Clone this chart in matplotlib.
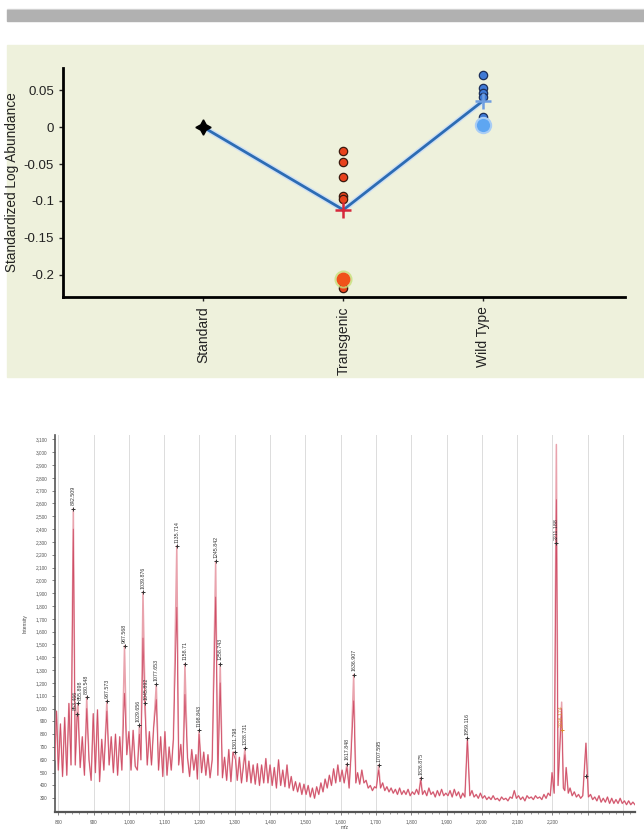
import numpy as np
import matplotlib.pyplot as plt
from matplotlib.patches import Rectangle
from matplotlib.ticker import FuncFormatter

plt.rcParams['font.family'] = ['Liberation Sans', 'DejaVu Sans']

# top panel: standardized log abundance per group
groups = ['Standard', 'Transgenic', 'Wild Type']
standard_vals = [0.0]
transgenic_vals = [-0.032, -0.047, -0.068, -0.093, -0.098, -0.218]
transgenic_highlight = -0.205
wildtype_vals = [0.070, 0.053, 0.046, 0.041, 0.014]
wildtype_highlight = 0.003
group_means = [0.0, -0.112, 0.036]

# bottom panel: spectrum baseline (m/z, intensity)
noise_mz = [790, 795, 800, 806, 812, 818, 824, 830, 836, 848, 862, 868, 874, 887, 893, 899,
            905, 911, 917, 923, 929, 944, 950, 956, 962, 968, 974, 980, 994, 1000, 1006, 1012,
            1018, 1024, 1034, 1052, 1058, 1064, 1070, 1084, 1090, 1096, 1102, 1108, 1114, 1120,
            1126, 1141, 1147, 1153, 1166, 1172, 1178, 1184, 1190, 1194, 1206, 1212, 1218, 1224,
            1230, 1236, 1252, 1265, 1271, 1277, 1283, 1289, 1295, 1307, 1313, 1319, 1334, 1340,
            1346, 1352, 1358, 1364, 1370, 1376, 1382, 1388, 1394, 1400, 1406, 1412, 1418, 1424,
            1430, 1436, 1442, 1448, 1454, 1460, 1466, 1472, 1478, 1484, 1490, 1496, 1502, 1508,
            1514, 1520, 1526, 1532, 1538, 1544, 1550, 1556, 1562, 1568, 1574, 1580, 1586, 1592,
            1598, 1604, 1610, 1624, 1629, 1643, 1648, 1654, 1660, 1666, 1672, 1678, 1684, 1690,
            1696, 1701, 1713, 1719, 1725, 1731, 1737, 1743, 1749, 1755, 1761, 1767, 1773, 1779,
            1785, 1791, 1797, 1803, 1809, 1815, 1821, 1832, 1838, 1844, 1850, 1856, 1862, 1868,
            1874, 1880, 1886, 1892, 1898, 1904, 1910, 1916, 1922, 1928, 1934, 1940, 1946, 1952,
            1966, 1972, 1978, 1984, 1990, 1996, 2002, 2008, 2014, 2020, 2026, 2032, 2038, 2044,
            2050, 2056, 2062, 2068, 2074, 2080, 2086, 2092, 2098, 2104, 2110, 2116, 2122, 2128,
            2134, 2140, 2146, 2152, 2158, 2164, 2170, 2176, 2182, 2188, 2194, 2199, 2205, 2216,
            2231, 2235, 2245, 2250, 2256, 2262, 2268, 2274, 2280, 2286, 2302, 2308, 2314, 2320,
            2326, 2332, 2338, 2344, 2350, 2356, 2362, 2368, 2374, 2380, 2386, 2392, 2398, 2404,
            2410, 2416, 2422, 2428, 2434]
noise_int = [600, 980, 520, 880, 470, 930, 480, 1040, 560, 560, 540, 780, 480, 600, 440, 960,
             500, 990, 430, 760, 520, 560, 780, 500, 800, 480, 780, 520, 640, 820, 520, 830,
             550, 520, 600, 560, 820, 560, 850, 520, 780, 470, 820, 480, 700, 520,
             760, 560, 720, 500, 620, 470, 680, 520, 640, 450, 500, 660, 480, 640,
             460, 600, 480, 460, 620, 440, 680, 430, 660, 440, 620, 420, 430, 590,
             420, 560, 410, 570, 400, 560, 420, 610, 420, 560, 400, 540, 380, 600,
             400, 520, 390, 560, 380, 470, 360, 430, 350, 420, 330, 410, 330, 400,
             310, 380, 300, 390, 330, 420, 350, 450, 380, 480, 400, 530, 420, 560,
             430, 520, 420, 380, 620, 420, 500, 410, 520, 420, 440, 380, 400, 360,
             390, 380, 380, 420, 360, 390, 350, 380, 340, 370, 330, 380, 330, 360,
             330, 370, 320, 350, 330, 370, 330, 330, 360, 320, 380, 330, 350, 310,
             360, 320, 370, 320, 340, 320, 360, 310, 370, 320, 350, 300, 340, 310,
             320, 360, 310, 330, 300, 340, 300, 320, 290, 310, 290, 320, 290, 300,
             280, 310, 290, 300, 280, 310, 300, 360, 300, 320, 290, 310, 280, 320,
             300, 310, 290, 320, 300, 310, 290, 330, 300, 340, 320, 500, 340, 400,
             380, 360, 340, 380, 320, 350, 310, 330, 300, 320, 310, 330, 290, 310,
             280, 320, 270, 300, 270, 310, 260, 300, 260, 290, 260, 300, 260, 280,
             250, 280, 250, 270, 250]

# labelled peaks: light trace height, dark trace height, label position
peak_mz = [842.509, 853.466, 855.898, 880.548, 937.573, 987.568, 1029.656, 1039.876, 1045.892,
           1077.653, 1135.714, 1158.71, 1198.843, 1245.842, 1258.743, 1301.798, 1328.731,
           1617.848, 1636.907, 1707.595, 1826.875, 1959.116, 2211.188, 2226.174]
peak_labels = ['842.509', '853.466', '855.898', '880.548', '937.573', '987.568', '1029.656',
               '1039.876', '1045.892', '1077.653', '1135.714', '1158.71', '1198.843',
               '1245.842', '1258.743', '1301.798', '1328.731', '1617.848', '1636.907',
               '1707.595', '1826.875', '1959.116', '2211.188', '2226.174']
peak_hi = [2560, 1000, 1040, 1090, 1060, 1490, 870, 1910, 1040, 1190, 2270, 1350, 830, 2150,
           1350, 660, 690, 570, 1265, 560, 460, 770, 3060, 1050]
peak_lo = [2400, 940, 960, 1000, 980, 1120, 800, 1550, 960, 1070, 1790, 1110, 800, 1870,
           1200, 600, 640, 540, 1060, 520, 440, 760, 2630, 1000]
label_int = [2560, 960, 1040, 1090, 1060, 1490, 870, 1910, 1040, 1190, 2270, 1350, 830, 2150,
             1350, 660, 690, 570, 1265, 560, 460, 770, 2290, 830]
label_nudge = [0, -6, 6, 0, 0, 0, -3, 0, 3, 0, 0, 0, 0, 0, 0, 0, 0, 0, 0, 0, 0, 0, 0, 0]
other_mz = [2239, 2295]
other_int = [540, 730]
other_mark = [None, 470]

W, H = 644, 830
fig = plt.figure(figsize=(W / 100, H / 100), dpi=100)
fig.patch.set_facecolor('white')

def box(x0, y0, x1, y1, color):
    fig.patches.append(Rectangle((x0 / W, 1 - y1 / H), (x1 - x0) / W, (y1 - y0) / H,
                                 transform=fig.transFigure, color=color, zorder=-5))

box(7, 9, 644, 10.5, '#d9d9d9')
box(7, 10.5, 644, 21.5, '#b1b1b1')
box(7, 45, 644, 377, '#eef1dc')

def pix_axes(x0, y0, x1, y1):
    return fig.add_axes([x0 / W, 1 - y1 / H, (x1 - x0) / W, (y1 - y0) / H])

# ---- top: group plot
ax = pix_axes(63, 68, 625, 297)
ax.set_facecolor('none')
for s in ['top', 'right']:
    ax.spines[s].set_visible(False)
for s in ['left', 'bottom']:
    ax.spines[s].set_linewidth(2)
ax.set_xlim(-1.0, 3.01)
ax.set_ylim(-0.23, 0.08)

xs = np.arange(len(groups))
ax.plot(xs, group_means, color='#cfe0f3', lw=4, zorder=2, solid_capstyle='round')
ax.plot(xs, group_means, color='#2c6cb4', lw=2, zorder=3)

ax.plot([0] * len(standard_vals), standard_vals, marker=(4, 1, 0), ms=11, color='black',
        ls='none', zorder=5)
ax.plot([1] * len(transgenic_vals), transgenic_vals, 'o', ms=6, mfc='#e8421c', mec='#3a1a10',
        mew=0.9, zorder=4)
ax.plot([1], [transgenic_highlight], 'o', ms=11.5, mfc='none', mec='#c8e07a', mew=1.5, alpha=0.8,
        zorder=5)
ax.plot([1], [transgenic_highlight], 'o', ms=10, mfc='#f0521a', mec='none', zorder=6)
ax.plot([2] * len(wildtype_vals), wildtype_vals, 'o', ms=6, mfc='#3f7ad6', mec='#1c2f5a',
        mew=0.9, zorder=4)
ax.plot([2], [wildtype_highlight], 'o', ms=11, mfc='#5ea6f2', mec='#a9cdf5', mew=1.5, zorder=6)
ax.plot([1], [group_means[1]], '+', ms=11, mew=1.8, color='#d6283a', zorder=7)
ax.plot([2], [group_means[2]], '+', ms=11, mew=1.8, color='#6f9ee0', zorder=7)

ax.set_yticks([0.05, 0, -0.05, -0.1, -0.15, -0.2])
ax.set_yticklabels(['0.05', '0', '-0.05', '-0.1', '-0.15', '-0.2'])
ax.set_xticks(xs)
ax.set_xticklabels(groups, rotation=90)
ax.tick_params(labelsize=10, length=3, width=1, colors='#222222')
ax.tick_params(axis='y', labelsize=9.5)
ax.set_ylabel('Standardized Log Abundance', fontsize=9.8, color='#222222', labelpad=3)

# ---- bottom: spectrum
def trace(heights):
    mz = np.concatenate([noise_mz, peak_mz, other_mz])
    it = np.concatenate([noise_int, heights, other_int])
    o = np.argsort(mz)
    return mz[o], it[o]

bx = pix_axes(55, 435, 635, 812)
bx.set_xlim(790.6, 2434)
bx.set_ylim(193, 3134)
for s in ['top', 'right']:
    bx.spines[s].set_visible(False)
bx.spines['left'].set_linewidth(1.2)
bx.spines['bottom'].set_linewidth(1.6)
bx.spines['left'].set_color('#555555')
bx.spines['bottom'].set_color('#555555')

mz_a, int_a = trace(peak_hi)
mz_b, int_b = trace(peak_lo)
bx.plot(mz_a, int_a, color='#e9a3ad', lw=1.1, zorder=3)
bx.plot(mz_b, int_b, color='#cc4560', lw=0.6, alpha=0.9, zorder=4)

for m, y, lab, dx in zip(peak_mz, label_int, peak_labels, label_nudge):
    col = '#d98a2e' if m > 2220 else '#333333'
    bx.plot(m, y, '+', ms=3, mew=0.7, color=col, zorder=6)
    bx.text(m + dx, y + 25, lab, rotation=90, ha='center', va='bottom', fontsize=3.8,
            color=col, zorder=6)
for m, y in zip(other_mz, other_mark):
    if y is not None:
        bx.plot(m, y, '+', ms=3, mew=0.7, color='#333333', zorder=6)

xt = list(range(800, 2500, 100))
bx.set_xticks(xt)
bx.set_xticklabels([f'{v:,}' if v <= 2200 else '' for v in xt])
bx.set_xticks(list(range(800, 2440, 20)), minor=True)
bx.set_yticks(list(range(300, 3200, 100)))
bx.yaxis.set_major_formatter(FuncFormatter(lambda v, p: f'{int(v):,}'))
bx.tick_params(labelsize=3.4, length=2, width=0.5, colors='#555555')
bx.tick_params(axis='x', which='minor', length=1.5, width=0.4, colors='#555555')
bx.grid(axis='x', color='#dcdcdc', lw=0.7)
bx.set_axisbelow(True)
bx.set_ylabel('Intensity', fontsize=3.6, color='#444444', labelpad=6)
bx.set_xlabel('m/z', fontsize=3.6, color='#444444', labelpad=0.5)

plt.savefig('out.png', dpi=100)
